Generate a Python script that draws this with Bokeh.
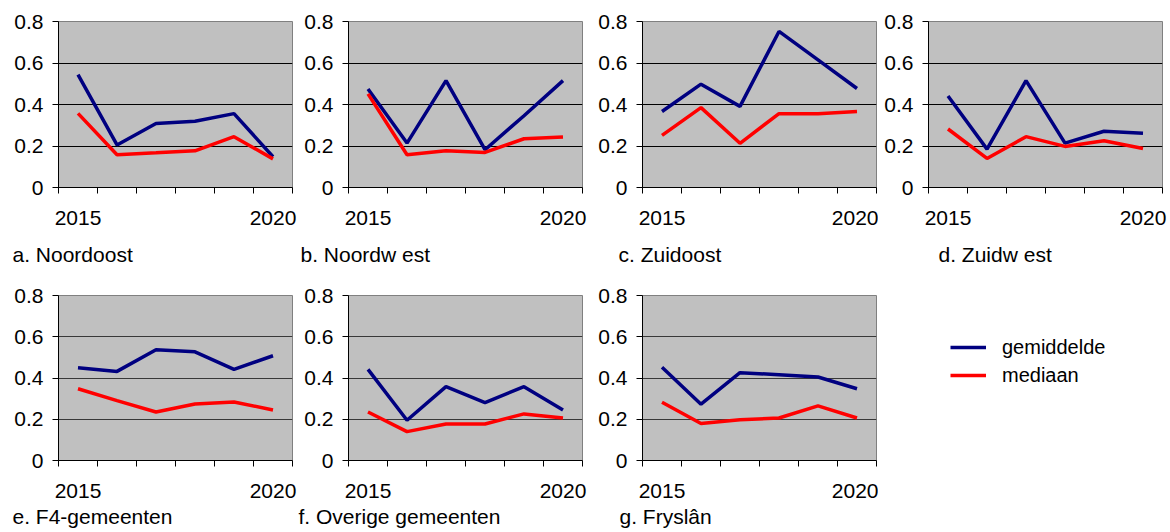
from bokeh.plotting import figure
from bokeh.layouts import column, row
from bokeh.models import (Range1d, FixedTicker, NumeralTickFormatter, Title,
                          Legend, LegendItem)
from bokeh.embed import file_html
from bokeh.resources import INLINE

years = [2015, 2016, 2017, 2018, 2019, 2020]

titles = ["a. Noordoost", "b. Noordw est", "c. Zuidoost", "d. Zuidw est",
          "e. F4-gemeenten", "f. Overige gemeenten", "g. Fryslân"]

gem_a = [0.544, 0.205, 0.308, 0.319, 0.356, 0.148]
med_a = [0.357, 0.158, 0.167, 0.177, 0.245, 0.138]
gem_b = [0.475, 0.214, 0.515, 0.182, 0.346, 0.515]
med_b = [0.451, 0.158, 0.177, 0.169, 0.235, 0.243]
gem_c = [0.366, 0.498, 0.391, 0.752, 0.615, 0.477]
med_c = [0.251, 0.385, 0.213, 0.356, 0.356, 0.366]
gem_d = [0.441, 0.185, 0.515, 0.214, 0.271, 0.261]
med_d = [0.282, 0.140, 0.245, 0.198, 0.225, 0.188]
gem_e = [0.450, 0.432, 0.537, 0.527, 0.442, 0.508]
med_e = [0.348, 0.290, 0.235, 0.274, 0.284, 0.245]
gem_f = [0.442, 0.195, 0.358, 0.281, 0.358, 0.245]
med_f = [0.235, 0.140, 0.177, 0.177, 0.226, 0.206]
gem_g = [0.452, 0.273, 0.426, 0.416, 0.405, 0.348]
med_g = [0.282, 0.179, 0.198, 0.206, 0.265, 0.206]

gem_series = [gem_a, gem_b, gem_c, gem_d, gem_e, gem_f, gem_g]
med_series = [med_a, med_b, med_c, med_d, med_e, med_f, med_g]

y_ticks = [0, 0.2, 0.4, 0.6, 0.8]
series_names = ["gemiddelde", "mediaan"]

BLUE = "#000080"
RED = "#FF0000"
FONT = "Liberation Sans"
FS = "21px"

FRAME_W = 234
col_widths = [298, 294, 286, 292]
col_left = [58, 50, 50, 50]
title_off = [-46, -48, -24, 10, -46, -50, -23]

ROW1 = dict(top=21, fh=166, bottom=95, grid="#000000", t_stand=31)
ROW2 = dict(top=12, fh=165, bottom=73, grid="#383838", t_stand=8)


def panel(i, col, cfg):
    w = col_widths[col]
    ml = col_left[col]
    p = figure(frame_width=FRAME_W, frame_height=cfg["fh"],
               min_border_left=ml, min_border_right=w - ml - FRAME_W,
               min_border_top=cfg["top"], min_border_bottom=cfg["bottom"],
               x_range=Range1d(2014.5, 2020.5), y_range=Range1d(0, 0.8),
               output_backend="svg", toolbar_location=None, tools="")
    p.background_fill_color = "#C0C0C0"
    p.border_fill_color = "white"
    p.outline_line_color = "#808080"
    p.outline_line_width = 1

    p.line(years, gem_series[i], line_color=BLUE, line_width=3.5)
    p.line(years, med_series[i], line_color=RED, line_width=3.5)

    xa = p.xaxis[0]
    xa.ticker = FixedTicker(ticks=[2015, 2020],
                            minor_ticks=[2014.5 + k for k in range(7)])
    xa.major_tick_line_color = None
    xa.major_tick_out = 6
    xa.major_tick_in = 0
    xa.minor_tick_out = 6
    xa.minor_tick_in = 0
    xa.minor_tick_line_color = "black"
    xa.axis_line_color = "black"
    xa.major_label_standoff = 17
    xa.major_label_text_font = FONT
    xa.major_label_text_font_size = FS
    xa.major_label_text_color = "black"

    ya = p.yaxis[0]
    ya.ticker = FixedTicker(ticks=y_ticks)
    ya.formatter = NumeralTickFormatter(format="0.[0]")
    ya.major_tick_out = 6
    ya.major_tick_in = 0
    ya.minor_tick_line_color = None
    ya.axis_line_color = "black"
    ya.major_tick_line_color = "black"
    ya.major_label_standoff = 9
    ya.major_label_text_font = FONT
    ya.major_label_text_font_size = FS
    ya.major_label_text_color = "black"

    p.xgrid.visible = False
    p.ygrid.ticker = FixedTicker(ticks=[0.2, 0.4, 0.6])
    p.ygrid.grid_line_color = cfg["grid"]
    p.ygrid.grid_line_width = 1

    p.add_layout(Title(text=titles[i], align="left", vertical_align="top",
                       offset=title_off[i], standoff=cfg["t_stand"],
                       text_font=FONT, text_font_size=FS,
                       text_font_style="normal", text_color="black"),
                 "below")
    return p


top_row = [panel(k, k, ROW1) for k in range(4)]
bottom_row = [panel(4 + k, k, ROW2) for k in range(3)]

# legend cell (same borders as the other plots of the second row)
lf = figure(frame_width=292 - 34, frame_height=ROW2["fh"],
            min_border_left=34, min_border_top=ROW2["top"],
            min_border_right=0, min_border_bottom=ROW2["bottom"],
            x_range=Range1d(0, 1), y_range=Range1d(0, 1),
            x_axis_location=None, y_axis_location=None,
            output_backend="svg", toolbar_location=None, tools="")
lf.outline_line_color = None
lf.background_fill_color = "white"
lf.border_fill_color = "white"
lf.xgrid.visible = False
lf.ygrid.visible = False
# legend renderers carry data but lie outside this cell's ranges
r1 = lf.line(years, gem_a, line_color=BLUE, line_width=3.5)
r2 = lf.line(years, med_a, line_color=RED, line_width=3.5)
legend = Legend(items=[LegendItem(label=series_names[0], renderers=[r1]),
                       LegendItem(label=series_names[1], renderers=[r2])],
                location="top_left", padding=0, margin=38, spacing=0,
                glyph_width=36, glyph_height=28, label_height=28,
                label_standoff=16, label_text_font=FONT,
                label_text_font_size="20px", label_text_color="black",
                border_line_alpha=0, background_fill_alpha=0)
lf.add_layout(legend)

layout = column(row(*top_row), row(*bottom_row, lf))

open("out.html", "w").write(file_html(layout, INLINE))
